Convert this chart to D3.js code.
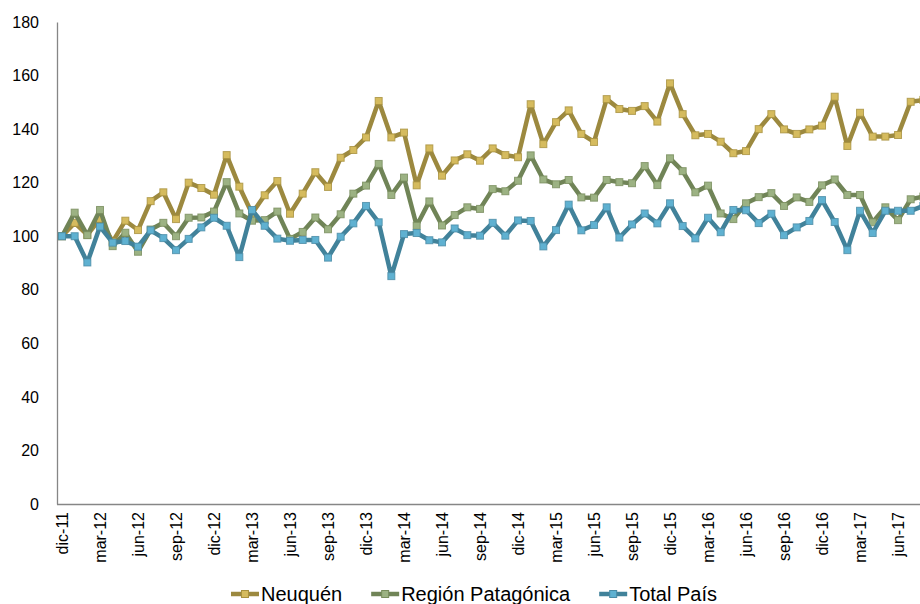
<!DOCTYPE html>
<html>
<head>
<meta charset="utf-8">
<script src="https://cdn.jsdelivr.net/npm/d3@7"></script>
<style>
  body { margin: 0; background: #fff; }
  #chart { width: 920px; height: 604px; }
  text { font-family: "Liberation Sans", Arial, sans-serif; fill: #000; }
</style>
</head>
<body>
<div id="chart"></div>
<script>
  const w = 920;
  const h = 604;

  // months dic-11 .. ago-17
  const months = [
    "dic-11","ene-12","feb-12","mar-12","abr-12","may-12","jun-12","jul-12","ago-12","sep-12","oct-12","nov-12",
    "dic-12","ene-13","feb-13","mar-13","abr-13","may-13","jun-13","jul-13","ago-13","sep-13","oct-13","nov-13",
    "dic-13","ene-14","feb-14","mar-14","abr-14","may-14","jun-14","jul-14","ago-14","sep-14","oct-14","nov-14",
    "dic-14","ene-15","feb-15","mar-15","abr-15","may-15","jun-15","jul-15","ago-15","sep-15","oct-15","nov-15",
    "dic-15","ene-16","feb-16","mar-16","abr-16","may-16","jun-16","jul-16","ago-16","sep-16","oct-16","nov-16",
    "dic-16","ene-17","feb-17","mar-17","abr-17","may-17","jun-17","jul-17","ago-17"
  ];

  const tickLabels = ["dic-11","mar-12","jun-12","sep-12","dic-12","mar-13","jun-13","sep-13","dic-13",
    "mar-14","jun-14","sep-14","dic-14","mar-15","jun-15","sep-15","dic-15","mar-16","jun-16","sep-16",
    "dic-16","mar-17","jun-17"];

  const yTicks = [0, 20, 40, 60, 80, 100, 120, 140, 160, 180];

  const neuquen = [100, 105, 100.5, 106.5, 98, 105.8, 102.3, 113.1, 116.4, 106.4, 120, 118,
    115.5, 130.3, 118.5, 108.5, 115.3, 120.6, 108.4, 115.9, 123.9, 118.4, 129.3, 132.2,
    136.9, 150.5, 136.9, 138.7, 119, 132.8, 122.6, 128.3, 130.6, 128.2, 132.8, 130.3,
    129.5, 149.3, 134.4, 142.6, 147, 138.2, 135.2, 151.2, 147.5, 146.8, 148.6, 142.8,
    157.1, 145.6, 137.7, 138.2, 135.3, 131, 131.8, 140, 145.6, 139.9, 138.2, 139.9,
    141.3, 152.1, 133.7, 146.1, 137.2, 137.2, 137.8, 150.2, 150.9];

  const region = [100, 108.8, 100.4, 109.8, 96.3, 101.3, 94.2, 102.5, 105, 100, 106.9, 107,
    109.2, 120.2, 108.5, 105.8, 106, 109.2, 99, 101.6, 107, 102.6, 108.2, 115.9,
    118.9, 127, 115.4, 121.9, 103.9, 113, 104, 107.9, 110.8, 110.2, 117.6, 116.8,
    120.7, 130.2, 121.2, 119.4, 121, 114.5, 114.4, 121, 120.2, 119.8, 126.2, 119.1,
    129.1, 124.3, 116.4, 118.9, 108.5, 106.4, 112.3, 114.6, 116.1, 111.3, 114.5, 112.8,
    119, 121.2, 115.4, 115.4, 105.2, 110.8, 106, 113.8, 114.8];

  const totalPais = [100, 100, 90.2, 103.6, 97.6, 98.2, 96.1, 102.2, 99.3, 94.8, 99, 103.3,
    106.9, 103.9, 92.2, 109.8, 103.9, 99.1, 98.3, 98.6, 98.6, 92, 99.8, 104.8,
    111.3, 105.2, 85.1, 100.8, 101.2, 98.5, 97.7, 102.9, 100.4, 100.2, 105, 100.2,
    105.9, 105.7, 96.2, 102.3, 111.8, 102.2, 104.2, 110.8, 99.5, 104.4, 108.5, 104.8,
    112.3, 103.8, 99.2, 106.9, 101.5, 109.8, 109.7, 104.9, 108.4, 100.4, 103.3, 105.7,
    113.5, 105.3, 94.8, 109.5, 101.2, 109.5, 109.5, 109.5, 111.3];

  const seriesNames = ["Neuquén", "Región Patagónica", "Total País"];
  const seriesData = [neuquen, region, totalPais];
  const lineColors = ["#9c893f", "#708457", "#41829a"];
  const markColors = ["#d5bb5e", "#9cb283", "#5fb1d1"];
  const markStroke = ["#a8913f", "#788c5c", "#4a8ba5"];

  var svg = d3.select("#chart")
    .append("svg")
    .attr("width", w)
    .attr("height", h);

  var x = d3.scalePoint()
    .domain(months)
    .range([62, 62 + 12.667 * (months.length - 1)]);

  var y = d3.scaleLinear()
    .domain([0, 180])
    .range([504, 22]);

  // y axis
  var yAxis = svg.append("g")
    .attr("transform", "translate(57,0)")
    .call(d3.axisLeft(y).tickValues(yTicks).tickSize(0).tickPadding(18));
  yAxis.select(".domain").attr("stroke", "#868686").attr("stroke-width", 1.3);
  yAxis.selectAll("text")
    .style("font-size", "16px")
    .style("font-family", "Liberation Sans, Arial, sans-serif");

  // x axis
  var xAxis = svg.append("g")
    .attr("transform", "translate(0,504)")
    .call(d3.axisBottom(x).tickValues(tickLabels).tickSize(0));
  xAxis.select(".domain")
    .attr("d", "M57,0.5H" + w)
    .attr("stroke", "#868686").attr("stroke-width", 1.3);
  xAxis.selectAll("text")
    .style("font-size", "16px")
    .style("font-family", "Liberation Sans, Arial, sans-serif")
    .attr("text-anchor", "end")
    .attr("transform", "rotate(-90)")
    .attr("x", -8)
    .attr("y", 0)
    .attr("dy", "0.35em");

  // lines and markers
  var lineGen = d3.line()
    .x((d, i) => x(months[i]))
    .y(d => y(d));

  seriesData.forEach((vals, k) => {
    svg.append("path")
      .datum(vals)
      .attr("d", lineGen)
      .attr("fill", "none")
      .attr("stroke", lineColors[k])
      .attr("stroke-width", 4.5)
      .attr("stroke-linejoin", "round");

    svg.append("g")
      .selectAll("rect")
      .data(vals)
      .enter()
      .append("rect")
      .attr("x", (d, i) => x(months[i]) - 3.5)
      .attr("y", d => y(d) - 3.5)
      .attr("width", 7)
      .attr("height", 7)
      .attr("fill", markColors[k])
      .attr("stroke", markStroke[k])
      .attr("stroke-opacity", 0.8)
      .attr("stroke-width", 1);
  });

  // legend
  var legend = svg.append("g");
  var lx = 0;
  seriesNames.forEach((name, k) => {
    var item = legend.append("g").attr("transform", "translate(" + lx + ",0)");
    item.append("line")
      .attr("x1", 0).attr("x2", 28)
      .attr("y1", 0).attr("y2", 0)
      .attr("stroke", lineColors[k])
      .attr("stroke-width", 4.5);
    item.append("rect")
      .attr("x", 10.5).attr("y", -3.5)
      .attr("width", 7).attr("height", 7)
      .attr("fill", markColors[k])
      .attr("stroke", markStroke[k])
      .attr("stroke-width", 1);
    var t = item.append("text")
      .attr("x", 30)
      .attr("y", 7)
      .style("font-size", "20px")
      .text(name);
    lx += 30 + t.node().getComputedTextLength() + 29;
  });
  var legendW = lx - 29;
  legend.attr("transform", "translate(" + (474 - legendW / 2) + ",594)");
</script>
</body>
</html>
